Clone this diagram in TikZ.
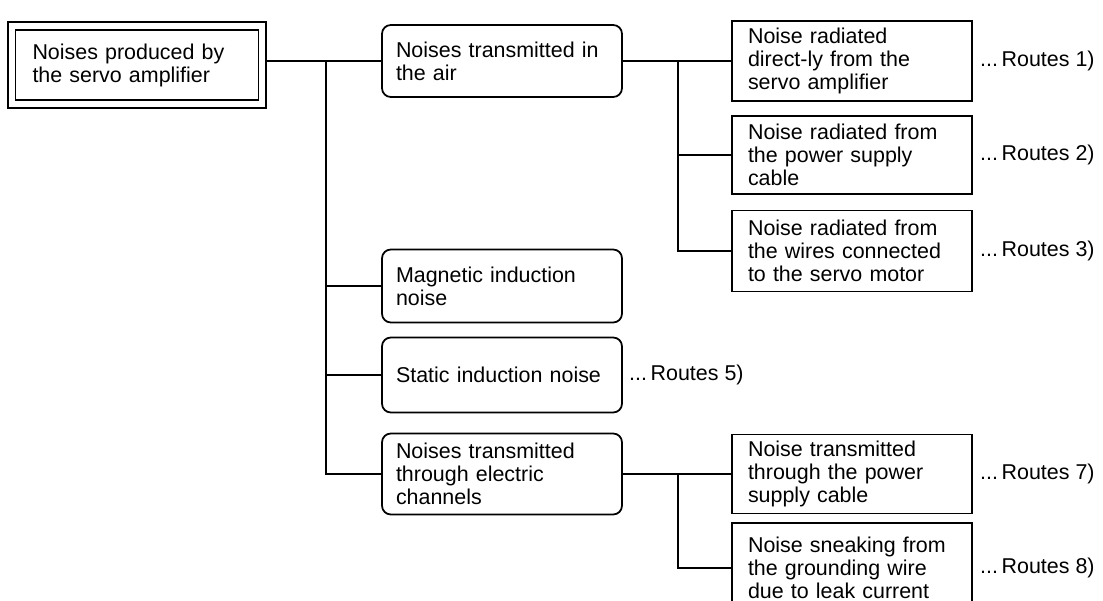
\documentclass[tikz,border=0pt]{standalone}
\usepackage{fontspec}
\setmainfont{Liberation Sans}
\usetikzlibrary{positioning}

\newcommand{\boxfont}{\fontsize{12.2}{13.1}\selectfont}

\tikzset{
    srcbox/.style={draw, line width=0.9pt, double, double distance=0.12cm,
        minimum width=5.02cm, minimum height=1.56cm, text width=4.18cm,
        inner xsep=0.42cm, align=left, font=\boxfont},
    kindbox/.style={draw, line width=1pt, rounded corners=5pt,
        minimum width=4.8cm, text width=4.24cm, inner xsep=0.28cm,
        align=left, font=\boxfont},
    routebox/.style={draw, line width=1pt,
        minimum width=4.8cm, text width=4.16cm, inner xsep=0.32cm,
        align=left, font=\boxfont},
    routelbl/.style={inner sep=0pt, font=\boxfont},
    wire/.style={line width=0.9pt}
}

\begin{document}
\begin{tikzpicture}[x=0.02cm, y=-0.02cm]
    \useasboundingbox (0,0) rectangle (1103,601);

    % where the noise comes from
    \node[srcbox] (src) at (137,65) {Noises produced by\\the servo amplifier};

    % kinds of noise
    \foreach \name/\y/\h/\txt in {
        air/61/72/{Noises transmitted in\\the air},
        mag/286/73/{Magnetic induction\\noise},
        stat/375/75/{Static induction noise},
        elec/474/81/{Noises transmitted\\through electric\\channels}%
    } {
        \node[kindbox, minimum height=\h*0.02cm] (\name) at (502,\y) {\txt};
    }
    \node[routelbl, right=0.12cm of stat] (rt5) {...\,Routes 5)};

    % routes
    \foreach \name/\y/\h/\txt/\rt in {
        r1/61/80/{Noise radiated\\direct-ly from the\\servo amplifier}/1,
        r2/155/78/{Noise radiated from\\the power supply\\cable}/2,
        r3/251/81/{Noise radiated from\\the wires connected\\to the servo motor}/3,
        r7/474/79/{Noise transmitted\\through the power\\supply cable}/7,
        r8/568/90/{Noise sneaking from\\the grounding wire\\due to leak current}/8%
    } {
        \node[routebox, minimum height=\h*0.02cm] (\name) at (852,\y) {\txt};
        \node[routelbl, right=0.14cm of \name] (rt\rt) {...\,Routes \rt)};
    }

    % connectors
    \coordinate (bus) at (326,61);
    \coordinate (airbus) at (678,61);
    \coordinate (elecbus) at (678,474);
    \draw[wire] ([xshift=0.08cm]src.east |- air.west) -- (air.west);
    \draw[wire] (bus) |- (elec.west);
    \foreach \n in {mag,stat}
        \draw[wire] (bus |- \n.west) -- (\n.west);
    \draw[wire] (air.east) -- (r1.west);
    \draw[wire] (airbus) |- (r3.west);
    \draw[wire] (airbus |- r2.west) -- (r2.west);
    \draw[wire] (elec.east) -- (r7.west);
    \draw[wire] (elecbus) |- (r8.west);
\end{tikzpicture}
\end{document}
